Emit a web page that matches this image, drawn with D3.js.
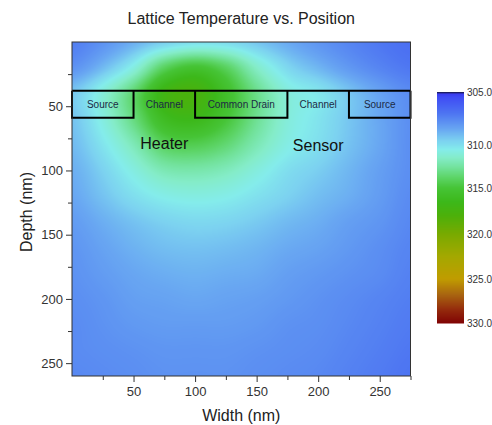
<!DOCTYPE html>
<html lang="en">
	<head>
		<meta charset="utf-8">
		<title>Lattice Temperature vs. Position</title>
		<script type="text/javascript" src="https://d3js.org/d3.v7.min.js"></script>
		<style type="text/css">
			body {
				margin: 0;
				background: #fff;
			}
			svg text {
				font-family: "Liberation Sans", Arial, sans-serif;
			}
		</style>
	</head>
	<body>
		<script type="text/javascript">
			//grid of the simulated field (nm)
			var widthGrid = [0, 25, 50, 75, 100, 125, 150, 175, 200, 225, 250, 275];
			var depthGrid = [0, 20, 40, 60, 80, 100, 120, 140, 160, 180, 200, 220, 240, 260];
			//lattice temperature (K), one row per depth
			var latticeTemp = [
				[307.3, 307.9, 308.7, 309.5, 310.0, 309.9, 309.3, 308.6, 308.0, 307.5, 307.1, 306.8],
				[307.9, 309.0, 310.8, 314.0, 315.3, 314.0, 311.5, 309.8, 308.9, 308.1, 307.5, 307.1],
				[309.3, 311.0, 313.6, 317.0, 317.6, 315.6, 313.0, 311.0, 310.3, 309.3, 308.4, 307.7],
				[309.2, 310.8, 313.2, 316.0, 316.5, 315.0, 312.8, 311.0, 310.2, 309.3, 308.5, 307.8],
				[309.0, 310.2, 311.9, 314.0, 314.3, 313.5, 312.0, 310.7, 310.0, 309.2, 308.5, 307.8],
				[308.7, 309.6, 310.8, 312.0, 312.2, 311.8, 310.9, 310.0, 309.5, 308.9, 308.3, 307.8],
				[308.5, 309.2, 310.0, 310.6, 310.8, 310.6, 310.1, 309.6, 309.1, 308.7, 308.2, 307.7],
				[308.2, 308.7, 309.2, 309.6, 309.8, 309.7, 309.4, 309.0, 308.7, 308.3, 308.0, 307.6],
				[308.0, 308.4, 308.8, 309.1, 309.2, 309.1, 308.9, 308.6, 308.4, 308.1, 307.8, 307.5],
				[307.9, 308.2, 308.5, 308.7, 308.8, 308.7, 308.6, 308.3, 308.1, 307.9, 307.7, 307.4],
				[307.8, 308.0, 308.3, 308.4, 308.5, 308.4, 308.3, 308.1, 307.9, 307.7, 307.5, 307.3],
				[307.7, 307.9, 308.1, 308.2, 308.2, 308.2, 308.1, 307.9, 307.8, 307.6, 307.4, 307.2],
				[307.7, 307.8, 307.9, 308.0, 308.0, 308.0, 307.9, 307.8, 307.7, 307.5, 307.3, 307.1],
				[307.6, 307.7, 307.8, 307.9, 307.9, 307.9, 307.8, 307.7, 307.6, 307.4, 307.2, 307.0]
			];

			//device regions along the top
			var regionNames = ["Source", "Channel", "Common Drain", "Channel", "Source"];
			var regionEdges = [0, 50, 100, 175, 225, 275];
			var regionClosed = [true, false, true, false, true];
			var deviceTop = 38, deviceBottom = 59;
			var deviceLabels = ["Heater", "Sensor"];
			var deviceLabelX = [75, 200];
			var deviceLabelDepth = [83, 85];

			//axes
			var xMajor = [50, 100, 150, 200, 250];
			var xMinor = [25, 75, 125, 175, 225, 275];
			var yMajor = [50, 100, 150, 200, 250];
			var yMinor = [25, 75, 125, 175, 225];

			//color map (K -> color) and colorbar labels
			var cmapTemps = [305.0, 305.2, 305.5, 307.0, 308.5, 309.6, 310.5, 311.5, 312.6, 313.8, 315.0, 316.5, 318.0, 320.0, 322.5, 325.0, 326.8, 328.5, 330.0];
			var cmapColors = ["#14143c", "#3a3cf0", "#3f4cf4", "#4d74f2", "#68a6f2", "#7cd2f0", "#84eceb", "#84ecc8", "#72e29c", "#5cd466", "#46c436", "#3cb81a", "#4cb00a", "#78aa00", "#a4a800", "#c09c00", "#a86410", "#942a0c", "#800404"];
			var cbTicks = [305, 310, 315, 320, 325, 330];

			var w = 492;
			var h = 425;
			var svg = d3.select("body")
						.append("svg")
						.attr("width", w)
						.attr("height", h);

			var x = d3.scaleLinear().domain([0, 275]).range([72, 410.5]);
			var y = d3.scaleLinear().domain([0, 260]).range([42, 376]);
			var color = d3.scaleLinear().domain(cmapTemps).range(cmapColors).clamp(true);
			var cb = d3.scaleLinear().domain(cbTicks).range([92, 145, 188, 234, 279, 323]);

			var colIdx = d3.scaleLinear().domain([widthGrid[0], widthGrid[widthGrid.length - 1]]).range([0, widthGrid.length - 1]);
			var rowIdx = d3.scaleLinear().domain([depthGrid[0], depthGrid[depthGrid.length - 1]]).range([0, depthGrid.length - 1]);

			function catmull(p0, p1, p2, p3, t) {
				return p1 + 0.5 * t * (p2 - p0 + t * (2 * p0 - 5 * p1 + 4 * p2 - p3 + t * (3 * (p1 - p2) + p3 - p0)));
			}
			function clamp(v, lo, hi) {
				return Math.max(lo, Math.min(hi, v));
			}
			//smooth sample of the grid at a point (for shading only)
			function sampleTemp(xn, dn) {
				var nc = widthGrid.length, nr = depthGrid.length;
				var gx = colIdx(xn), gy = rowIdx(dn);
				var i = clamp(Math.floor(gx), 0, nc - 2), j = clamp(Math.floor(gy), 0, nr - 2);
				var tx = gx - i, ty = gy - j;
				var col = [];
				for (var k = -1; k <= 2; k++) {
					var r = latticeTemp[clamp(j + k, 0, nr - 1)];
					col.push(catmull(r[clamp(i - 1, 0, nc - 1)], r[i], r[i + 1], r[clamp(i + 2, 0, nc - 1)], tx));
				}
				return catmull(col[0], col[1], col[2], col[3], ty);
			}

			//color lookup table
			var lut = [];
			for (var k = 0; k <= 1000; k++) {
				lut.push(d3.rgb(color(305 + k * 0.025)));
			}
			function lutColor(t) {
				return lut[clamp(Math.round((t - 305) / 0.025), 0, 1000)];
			}

			//heat map, drawn to a canvas then put into the svg
			var px0 = Math.floor(x(0)), py0 = Math.floor(y(0));
			var pw = Math.ceil(x(275)) - px0, ph = Math.ceil(y(260)) - py0;
			var canvas = document.createElement("canvas");
			canvas.width = pw;
			canvas.height = ph;
			var ctx = canvas.getContext("2d");
			var img = ctx.createImageData(pw, ph);
			for (var j = 0; j < ph; j++) {
				var dn = y.invert(py0 + j + 0.5);
				for (var i = 0; i < pw; i++) {
					var xn = x.invert(px0 + i + 0.5);
					var c = lutColor(sampleTemp(xn, dn));
					var o = (j * pw + i) * 4;
					img.data[o] = c.r;
					img.data[o + 1] = c.g;
					img.data[o + 2] = c.b;
					img.data[o + 3] = 255;
				}
			}
			ctx.putImageData(img, 0, 0);

			svg.append("image")
			   .attr("x", px0)
			   .attr("y", py0)
			   .attr("width", pw)
			   .attr("height", ph)
			   .attr("preserveAspectRatio", "none")
			   .attr("href", canvas.toDataURL());

			//device outline
			var dev = svg.append("g")
						 .attr("fill", "none")
						 .attr("stroke", "#000")
						 .attr("stroke-width", 2);
			dev.append("line")
			   .attr("x1", x(regionEdges[0]))
			   .attr("x2", x(regionEdges[regionEdges.length - 1]))
			   .attr("y1", y(deviceTop))
			   .attr("y2", y(deviceTop));
			dev.selectAll("path")
			   .data(regionNames.map(function(d, i) { return i; }).filter(function(i) { return regionClosed[i]; }))
			   .enter()
			   .append("path")
			   .attr("d", function(i) {
			   		return "M" + x(regionEdges[i]) + "," + y(deviceTop) +
			   			   "V" + y(deviceBottom) + "H" + x(regionEdges[i + 1]) + "V" + y(deviceTop);
			   });

			svg.selectAll(".region")
			   .data(regionNames)
			   .enter()
			   .append("text")
			   .attr("class", "region")
			   .attr("x", function(d, i) { return x((regionEdges[i] + regionEdges[i + 1]) / 2); })
			   .attr("y", y((deviceTop + deviceBottom) / 2))
			   .attr("dy", "0.35em")
			   .attr("text-anchor", "middle")
			   .attr("font-size", "10px")
			   .attr("fill", "#1c2a44")
			   .text(function(d) { return d; });

			svg.selectAll(".devlabel")
			   .data(deviceLabels)
			   .enter()
			   .append("text")
			   .attr("class", "devlabel")
			   .attr("x", function(d, i) { return x(deviceLabelX[i]); })
			   .attr("y", function(d, i) { return y(deviceLabelDepth[i]); })
			   .attr("text-anchor", "middle")
			   .attr("font-size", "16px")
			   .attr("fill", "#111")
			   .text(function(d) { return d; });

			//frame
			svg.append("rect")
			   .attr("x", x(0))
			   .attr("y", y(0))
			   .attr("width", x(275) - x(0))
			   .attr("height", y(260) - y(0))
			   .attr("fill", "none")
			   .attr("stroke", "#333")
			   .attr("stroke-width", 1);

			//axes
			function styleAxis(g) {
				g.select(".domain").remove();
				g.selectAll("line").attr("stroke", "#333");
				g.selectAll("text").attr("font-size", "13px").attr("fill", "#333")
				 .attr("font-family", "Liberation Sans, Arial, sans-serif");
			}
			svg.append("g")
			   .attr("transform", "translate(0," + y(260) + ")")
			   .call(d3.axisBottom(x).tickValues(xMajor).tickSize(6).tickPadding(5))
			   .call(styleAxis);
			svg.append("g")
			   .attr("transform", "translate(0," + y(260) + ")")
			   .call(d3.axisBottom(x).tickValues(xMinor).tickSize(4).tickFormat(""))
			   .call(styleAxis);
			svg.append("g")
			   .attr("transform", "translate(" + x(0) + ",0)")
			   .call(d3.axisLeft(y).tickValues(yMajor).tickSize(6).tickPadding(3))
			   .call(styleAxis);
			svg.append("g")
			   .attr("transform", "translate(" + x(0) + ",0)")
			   .call(d3.axisLeft(y).tickValues(yMinor).tickSize(4).tickFormat(""))
			   .call(styleAxis);

			//titles
			svg.append("text")
			   .attr("x", (x(0) + x(275)) / 2)
			   .attr("y", 24)
			   .attr("text-anchor", "middle")
			   .attr("font-size", "16px")
			   .attr("fill", "#222")
			   .text("Lattice Temperature vs. Position");
			svg.append("text")
			   .attr("x", (x(0) + x(275)) / 2)
			   .attr("y", 421)
			   .attr("text-anchor", "middle")
			   .attr("font-size", "16px")
			   .attr("fill", "#222")
			   .text("Width (nm)");
			svg.append("text")
			   .attr("transform", "translate(32," + 212 + ") rotate(-90)")
			   .attr("text-anchor", "middle")
			   .attr("font-size", "16px")
			   .attr("fill", "#222")
			   .text("Depth (nm)");

			//colorbar
			var cbx = 437, cbw = 27;
			var cbPix = d3.range(Math.round(cb(305)), Math.round(cb(330)));
			svg.append("g")
			   .selectAll("rect")
			   .data(cbPix)
			   .enter()
			   .append("rect")
			   .attr("x", cbx)
			   .attr("y", function(d) { return d; })
			   .attr("width", cbw)
			   .attr("height", 1.5)
			   .attr("fill", function(d) { return color(cb.invert(d + 0.5)); });
			svg.selectAll(".cbtick")
			   .data(cbTicks)
			   .enter()
			   .append("text")
			   .attr("class", "cbtick")
			   .attr("x", cbx + cbw + 3)
			   .attr("y", function(d) { return cb(d); })
			   .attr("dy", "0.35em")
			   .attr("font-size", "10px")
			   .attr("fill", "#333")
			   .text(function(d) { return d3.format(".1f")(d); });
		</script>
	</body>
</html>
